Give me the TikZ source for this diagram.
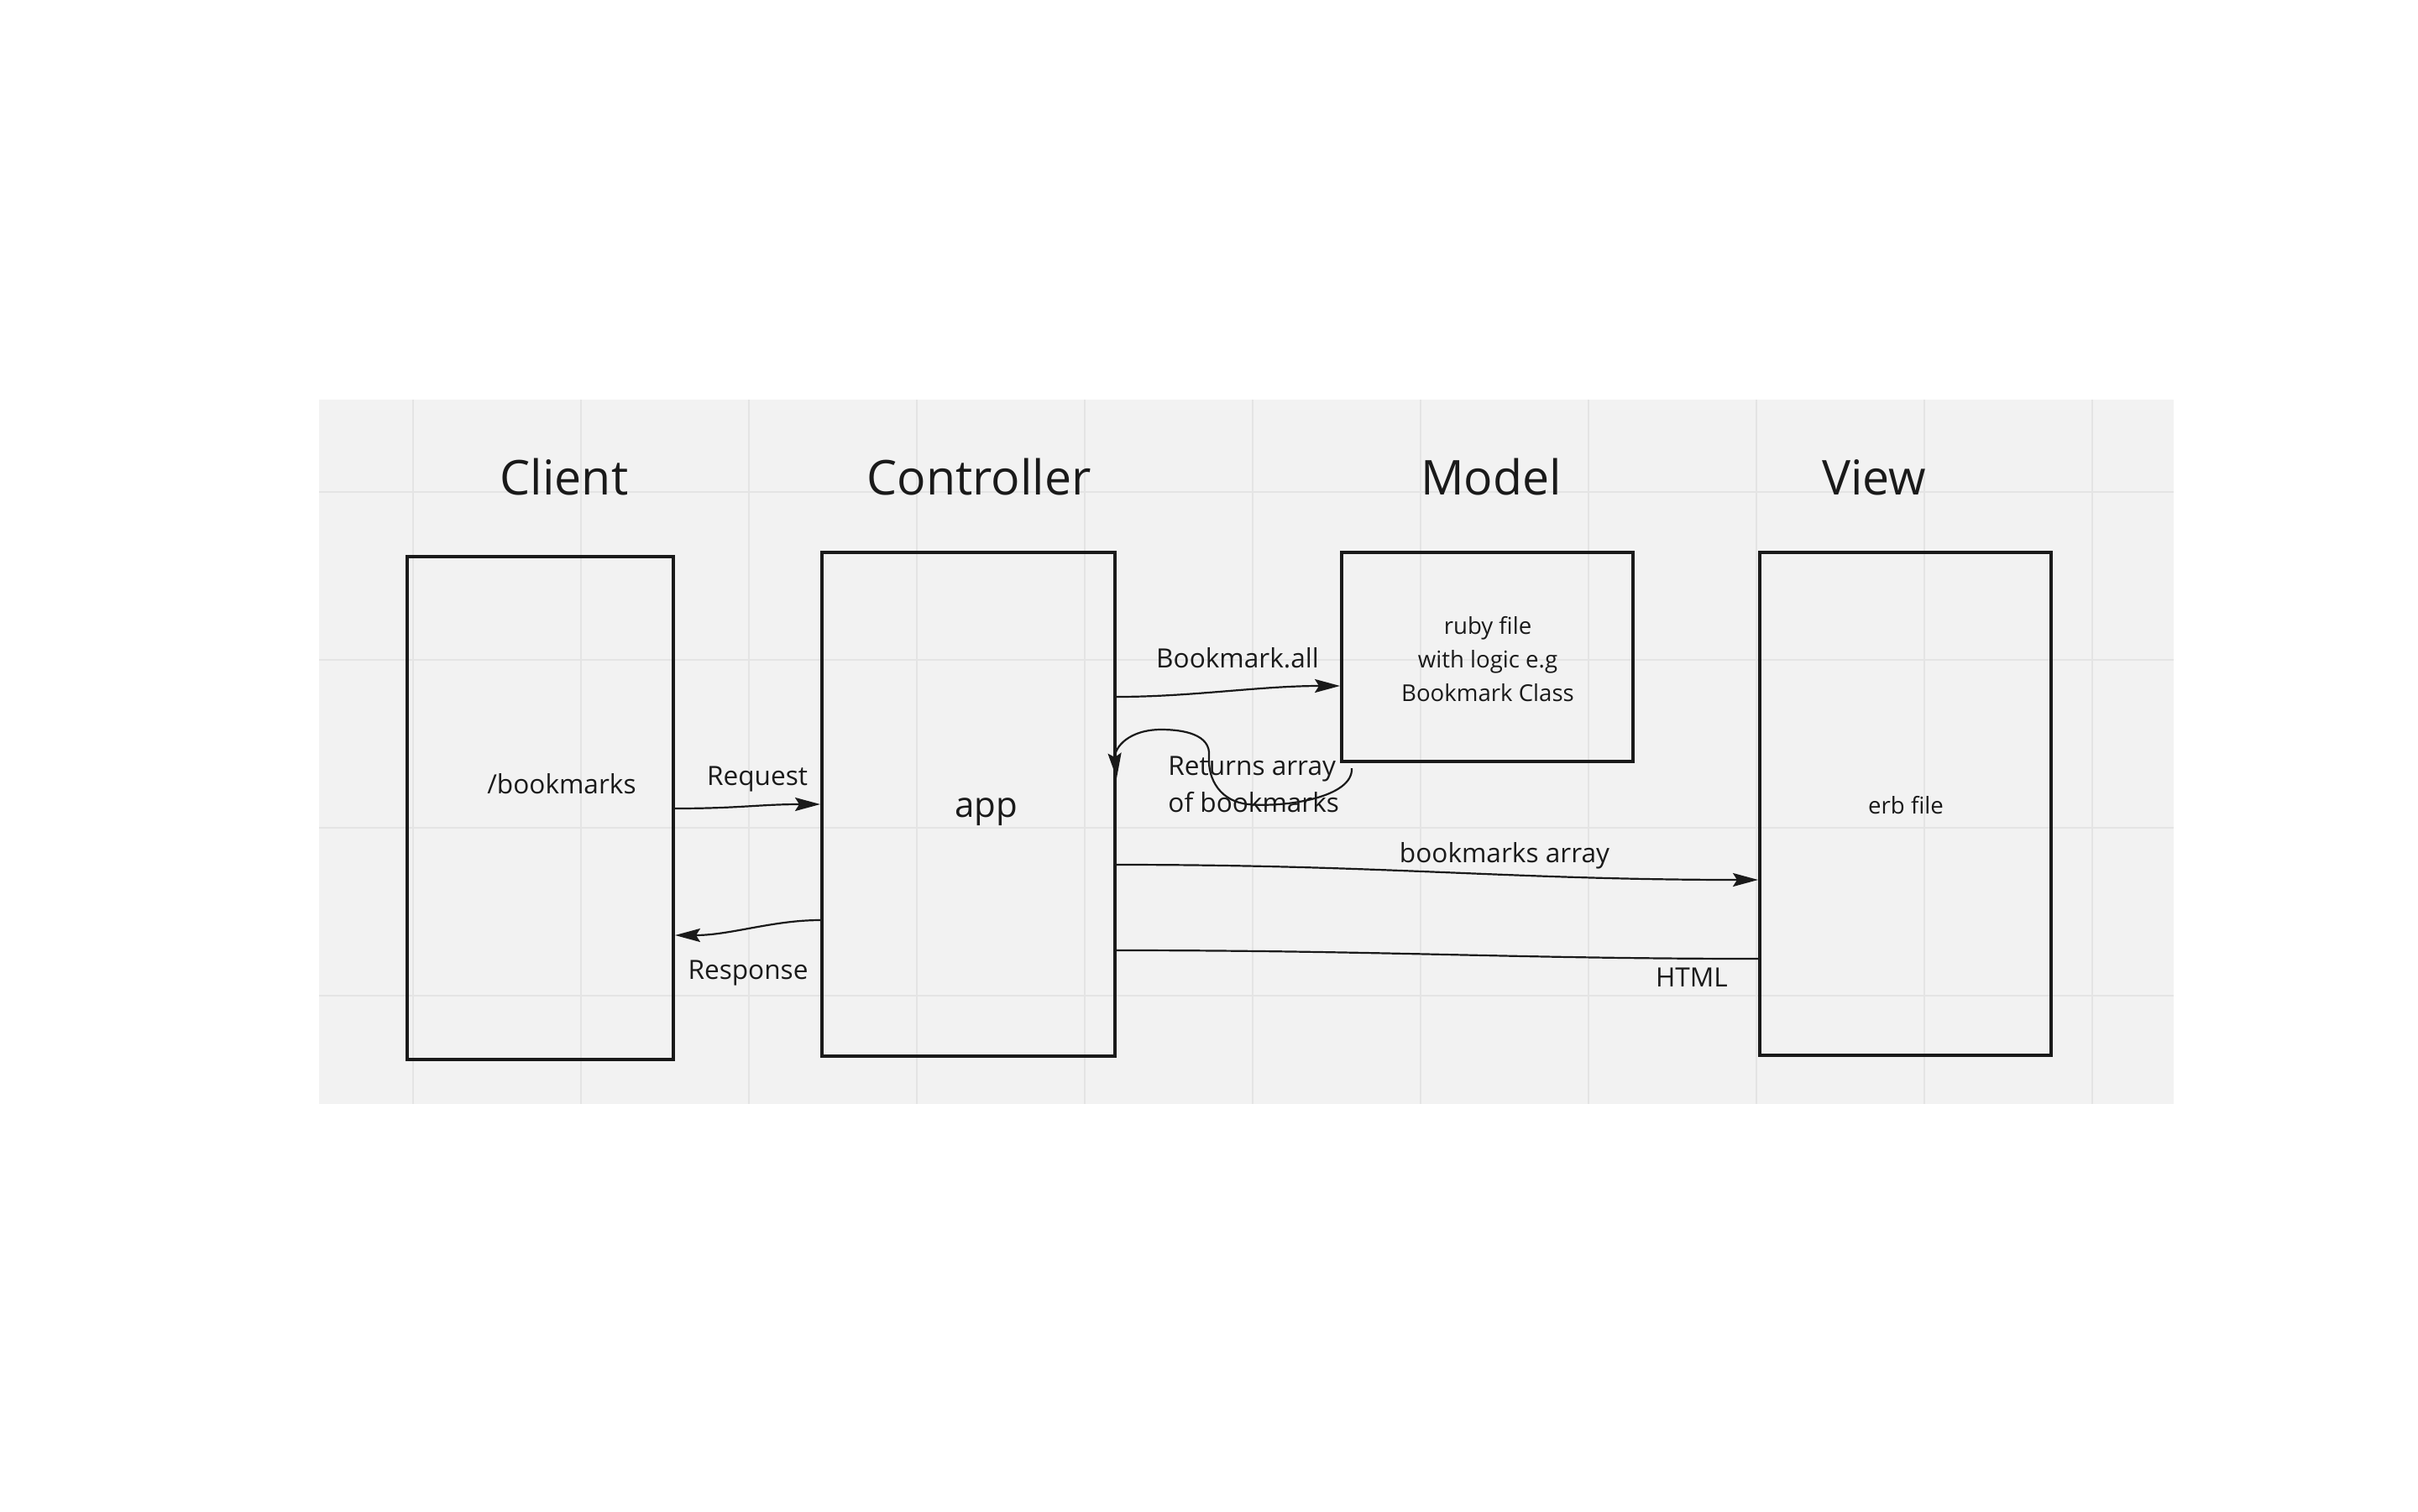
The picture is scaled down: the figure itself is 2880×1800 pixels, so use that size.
\documentclass[tikz,border=0pt]{standalone}
\usepackage{fontspec}
\setmainfont{Open Sans}
\usetikzlibrary{arrows.meta,fit}
\definecolor{bg}{HTML}{F2F2F2}
\definecolor{gridc}{HTML}{E4E4E4}
\definecolor{ink}{HTML}{1A1A1A}
\begin{document}
\begin{tikzpicture}[x=0.5pt,y=-0.5pt,
  box/.style={draw=ink, line width=2pt, inner sep=0pt},
  title/.style={font=\fontsize{28.6}{32}\selectfont, text=ink, anchor=base, inner sep=0pt},
  lbl/.style={font=\fontsize{15.8}{18}\selectfont, text=ink, anchor=base, inner sep=0pt},
  small/.style={font=\fontsize{13.8}{16}\selectfont, text=ink, anchor=base, inner sep=0pt},
  conn/.style={draw=ink, line width=1.1pt},
  arr/.style={conn, -{Stealth[length=15pt,width=8pt,inset=2.5pt]}}]

\fill[white] (0,0) rectangle (2880,1800);
\useasboundingbox (0,0) rectangle (2880,1800);
\fill[bg] (380,476) rectangle (2589,1315);
\foreach \gx in {492,692,...,2492} \draw[gridc, line width=1.2pt] (\gx,476) -- (\gx,1315);
\foreach \gy in {586,786,986,1186} \draw[gridc, line width=1.2pt] (380,\gy) -- (2589,\gy);

% boxes
\node[box, fit={(485,663) (802,1262)}] (client) {};
\node[box, fit={(979,658) (1328,1258)}] (ctrl) {};
\node[box, fit={(1598,658) (1945,907)}] (model) {};
\node[box, fit={(2096,658) (2443,1257)}] (view) {};

% titles
\node[title] (tclient) at (672,589) {Client};
\node[title] (tctrl) at (1166,589) {Controller};
\node[title] (tmodel) at (1776,589) {Model};
\node[title] (tview) at (2232,589) {View};

% box texts
\node[lbl] (bm) at (669,945) {/bookmarks};
\node[text=ink, anchor=base, inner sep=0pt, font=\fontsize{21}{25}\selectfont] (app) at (1175,973) {app};
\node[small] (m1) at (1772,755) {ruby file};
\node[small] (m2) at (1772,795) {with logic e.g};
\node[small] (m3) at (1772,835) {Bookmark Class};
\node[small] (erb) at (2270,969) {erb file};

% connectors
\draw[arr] (client.east |- 0,963) .. controls (880,963) and (905,958) .. (ctrl.west |- 0,958);
\draw[arr] (ctrl.west |- 0,1096) .. controls (920,1096) and (870,1114) .. (client.east |- 0,1114);
\draw[arr] (ctrl.east |- 0,830) .. controls (1420,830) and (1500,817) .. (model.west |- 0,817);
\draw[arr] (ctrl.east |- 0,1030) .. controls (1650,1030) and (1800,1048) .. (view.west |- 0,1048);
\draw[conn] (view.west |- 0,1142) .. controls (1800,1142) and (1650,1132) .. (ctrl.east |- 0,1132);
\draw[arr] ([shift={(14,6)}]model.south west) .. controls (1612,950) and (1530,962) .. (1487,958)
   .. controls (1455,955) and (1438,930) .. (1440,900)
   .. controls (1442,875) and (1410,869) .. (1383,869)
   .. controls (1345,869) and (1327,890) .. (ctrl.east |- 0,927);

% connector labels
\node[lbl] (req) at (902,935) {Request};
\node[lbl] (resp) at (891,1166) {Response};
\node[lbl] (ball) at (1474,795) {Bookmark.all};
\node[lbl, anchor=base west] (ret1) at (1391,923) {Returns array};
\node[lbl, anchor=base west] (ret2) at (1391,967) {of bookmarks};
\node[lbl] (barr) at (1792,1027) {bookmarks array};
\node[lbl] (html) at (2015,1175) {HTML};
\end{tikzpicture}
\end{document}
